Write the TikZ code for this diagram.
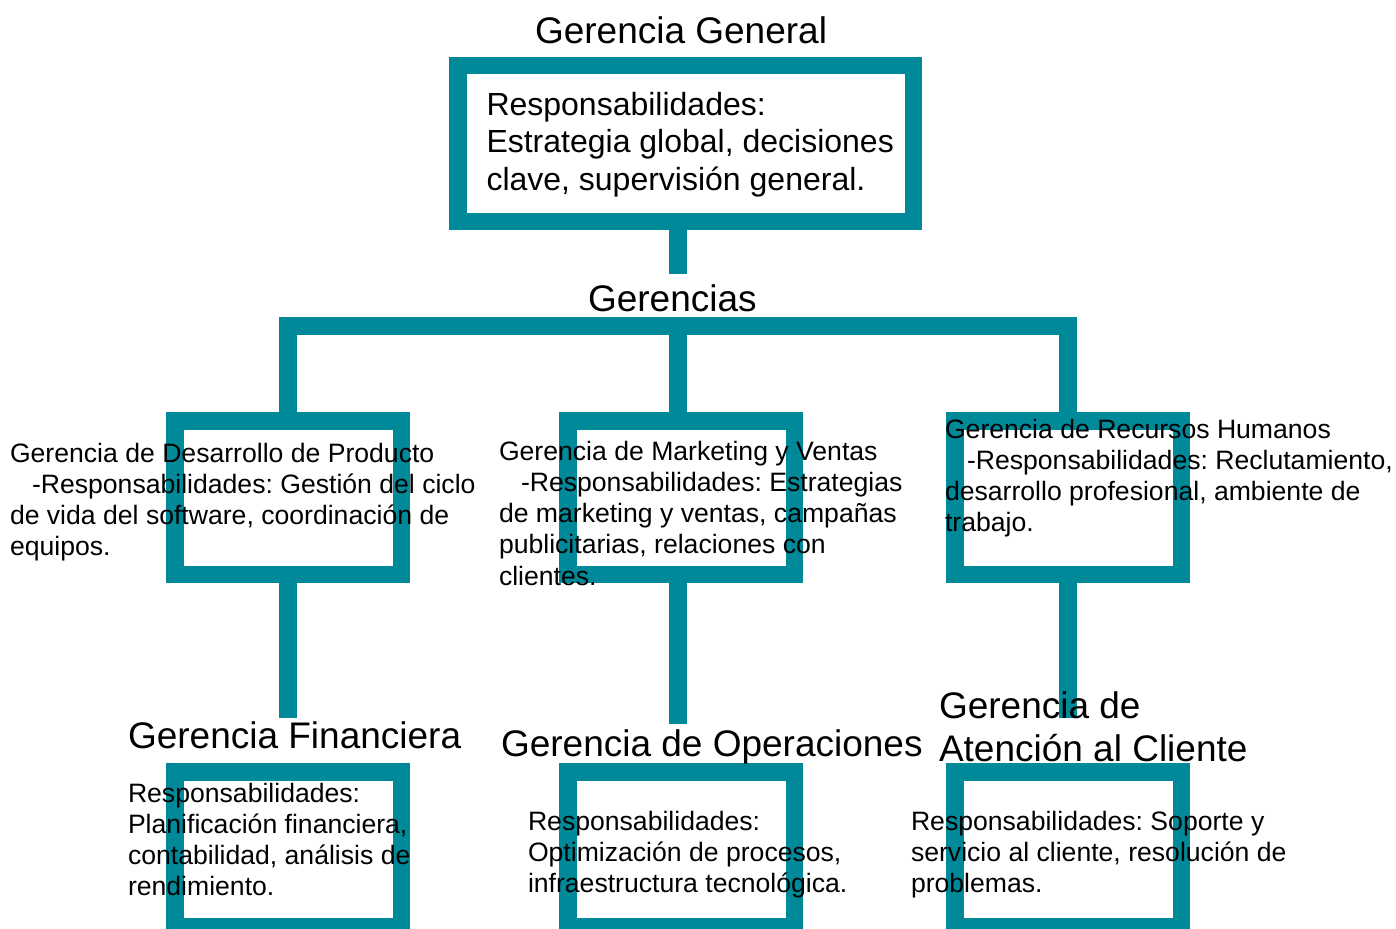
\documentclass[tikz,border=0pt]{standalone}
\usepackage{fontspec}
\setmainfont{Liberation Sans}
\definecolor{teal0}{RGB}{0,137,153}
\frenchspacing
\begin{document}
\begin{tikzpicture}[x=1pt,y=-1pt,
  frame/.style={draw=teal0, line width=17.5pt, inner sep=0pt, outer sep=0pt},
  conn/.style={draw=teal0, line width=17.5pt},
  txt/.style={anchor=north west, inner sep=0pt, outer sep=0pt, align=left, text=black},
  big/.style={txt, font=\fontsize{37}{43}\selectfont},
  med/.style={txt, font=\fontsize{32}{37.5}\selectfont},
  sml/.style={txt, font=\fontsize{26.6}{31.25}\selectfont}]
\useasboundingbox (0,0) rectangle (1396,928);
\clip (0,0) rectangle (1396,928);
% frames
\node[frame, minimum width=455.5pt, minimum height=155.5pt] (gg) at (685.5,143.5) {};
\node[frame, minimum width=226.5pt, minimum height=153.5pt] (ml) at (288,497.5) {};
\node[frame, minimum width=226.5pt, minimum height=153.5pt] (mm) at (681,497.5) {};
\node[frame, minimum width=226.5pt, minimum height=153.5pt] (mr) at (1068,497.5) {};
\node[frame, minimum width=226.5pt, minimum height=155pt] (bl) at (288,849.25) {};
\node[frame, minimum width=226.5pt, minimum height=155pt] (bm) at (681,849.25) {};
\node[frame, minimum width=226.5pt, minimum height=155pt] (br) at (1068,849.25) {};
% connector points
\coordinate (j0) at (678,274);
\coordinate (bar) at (678,326);
\coordinate (jl) at (288,718);
\coordinate (jm) at (678,724);
\coordinate (jr) at (1068,718);
% connectors
\draw[conn] (gg.south -| j0) -- (j0);
\draw[conn, line join=miter] (ml.north) -- (ml.north |- bar) -- (mr.north |- bar) -- (mr.north);
\draw[conn] (bar) -- (mm.north -| bar);
\draw[conn] (ml.south) -- (jl);
\draw[conn] (mm.south -| jm) -- (jm);
\draw[conn] (mr.south) -- (jr);
% texts
\node[big] (tgg) at (535,9.3) {\rule{0pt}{34pt}Gerencia General};
\node[med] (tggr) at (486.5,85) {\rule{0pt}{30pt}Responsabilidades:\\Estrategia global, decisiones\\clave, supervisión general.};
\node[big] (tger) at (588,277.7) {\rule{0pt}{34pt}Gerencias};
\node[sml] (tml) at (10,437) {\rule{0pt}{25pt}Gerencia de Desarrollo de Producto\\\hspace*{22pt}-Responsabilidades: Gestión del ciclo\\de vida del software, coordinación de\\equipos.};
\node[sml] (tmm) at (499,435) {\rule{0pt}{25pt}Gerencia de Marketing y Ventas\\\hspace*{22pt}-Responsabilidades: Estrategias\\de marketing y ventas, campañas\\publicitarias, relaciones con\\clientes.};
\node[sml] (tmr) at (945,413) {\rule{0pt}{25pt}Gerencia de Recursos Humanos\\\hspace*{22pt}-Responsabilidades: Reclutamiento,\\desarrollo profesional, ambiente de\\trabajo.};
\node[big] (tbl) at (128,714) {\rule{0pt}{34pt}Gerencia Financiera};
\node[sml] (tblr) at (128,777) {\rule{0pt}{25pt}Responsabilidades:\\Planificación financiera,\\contabilidad, análisis de\\rendimiento.};
\node[big] (tbm) at (501,722.7) {\rule{0pt}{34pt}Gerencia de Operaciones};
\node[sml] (tbmr) at (528,805) {\rule{0pt}{25pt}Responsabilidades:\\Optimización de procesos,\\infraestructura tecnológica.};
\node[big] (tbr) at (939,684) {\rule{0pt}{34pt}Gerencia de\\Atención al Cliente};
\node[sml] (tbrr) at (911,805) {\rule{0pt}{25pt}Responsabilidades: Soporte y\\servicio al cliente, resolución de\\problemas.};
\end{tikzpicture}
\end{document}
